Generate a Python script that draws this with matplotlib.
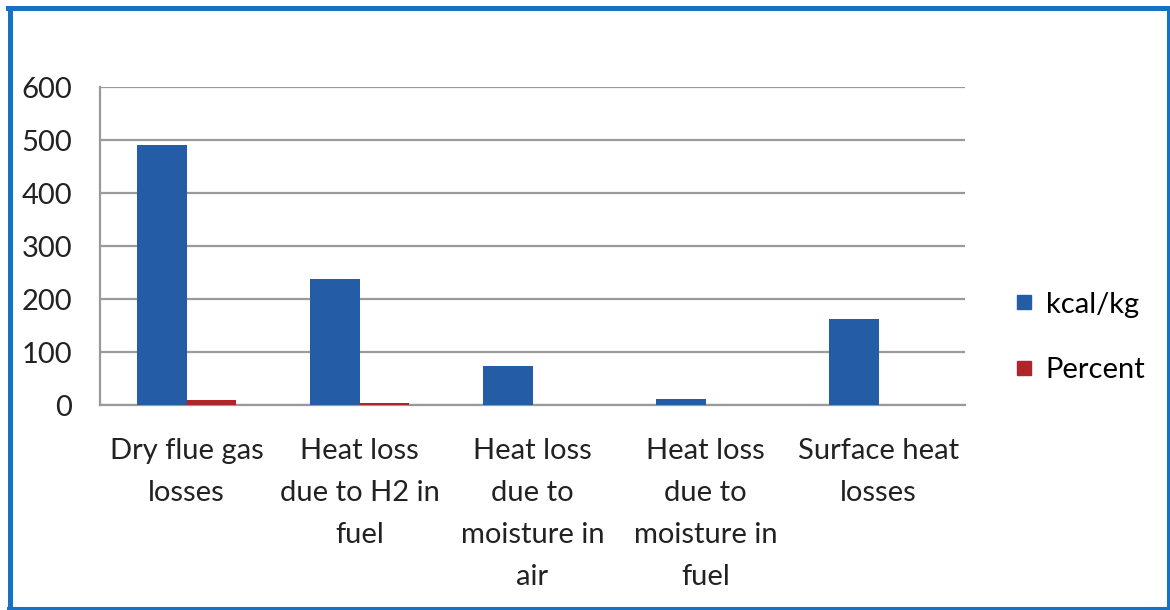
import numpy as np
import matplotlib.pyplot as plt
from matplotlib.lines import Line2D

plt.rcParams['font.family'] = ['Lato', 'DejaVu Sans']

# boiler heat losses
categories = ['Dry flue gas\nlosses', 'Heat loss\ndue to H2 in\nfuel',
              'Heat loss\ndue to\nmoisture in\nair', 'Heat loss\ndue to\nmoisture in\nfuel',
              'Surface heat\nlosses']
kcal_per_kg = [491, 238, 73, 11, 163]
percent = [9.0, 4.5, 0.0, 0.0, 0.0]
yticks = [0, 100, 200, 300, 400, 500, 600]

blue = '#245ca6'
red = '#b0252a'
frame = '#1872c4'

fig = plt.figure(figsize=(11.7, 6.1), dpi=100)
ax = fig.add_axes([0.0855, 0.336, 0.7393, 0.521])

x = np.arange(len(categories))
w = 1 / 3.5
ax.bar(x - w / 2, kcal_per_kg, w, color=blue, label='kcal/kg', zorder=3)
ax.bar(x + w / 2, percent, w, color=red, label='Percent', zorder=3)

ax.set_xlim(-0.5, len(categories) - 0.5)
ax.set_ylim(0, 600)
ax.set_yticks(yticks)
ax.set_xticks(x)
ax.set_xticklabels(categories, fontsize=21, color='#222222', linespacing=1.76)
ax.tick_params(axis='y', labelsize=21, colors='#222222', length=0, pad=20)
ax.tick_params(axis='x', length=0, pad=24)
ax.grid(axis='y', color='#9a9a9a', linewidth=1.6, zorder=0)
for s in ['top', 'right']:
    ax.spines[s].set_visible(False)
for s in ['left', 'bottom']:
    ax.spines[s].set_color('#9a9a9a')
    ax.spines[s].set_linewidth(1.6)

handles = [Line2D([], [], marker='s', linestyle='none', markersize=10, color=blue),
           Line2D([], [], marker='s', linestyle='none', markersize=10, color=red)]
fig.legend(handles, ['kcal/kg', 'Percent'], loc='center left',
           bbox_to_anchor=(0.845, 0.447), frameon=False, fontsize=21,
           handlelength=0.6, handletextpad=0.45, labelspacing=1.35)

# blue frame: heavier on the left and top edges
W, H = 1170, 610
edges = [((10, 10), (8, 608), 3.6), ((8, 1168), (8, 8), 3.6),
         ((1168, 1168), (8, 608), 2.2), ((8, 1168), (607.5, 607.5), 2.2)]
for xs, ys, lw in edges:
    fig.add_artist(Line2D([v / W for v in xs], [1 - v / H for v in ys],
                          transform=fig.transFigure, color=frame, linewidth=lw,
                          solid_capstyle='projecting'))

fig.savefig('out.png', dpi=100)
